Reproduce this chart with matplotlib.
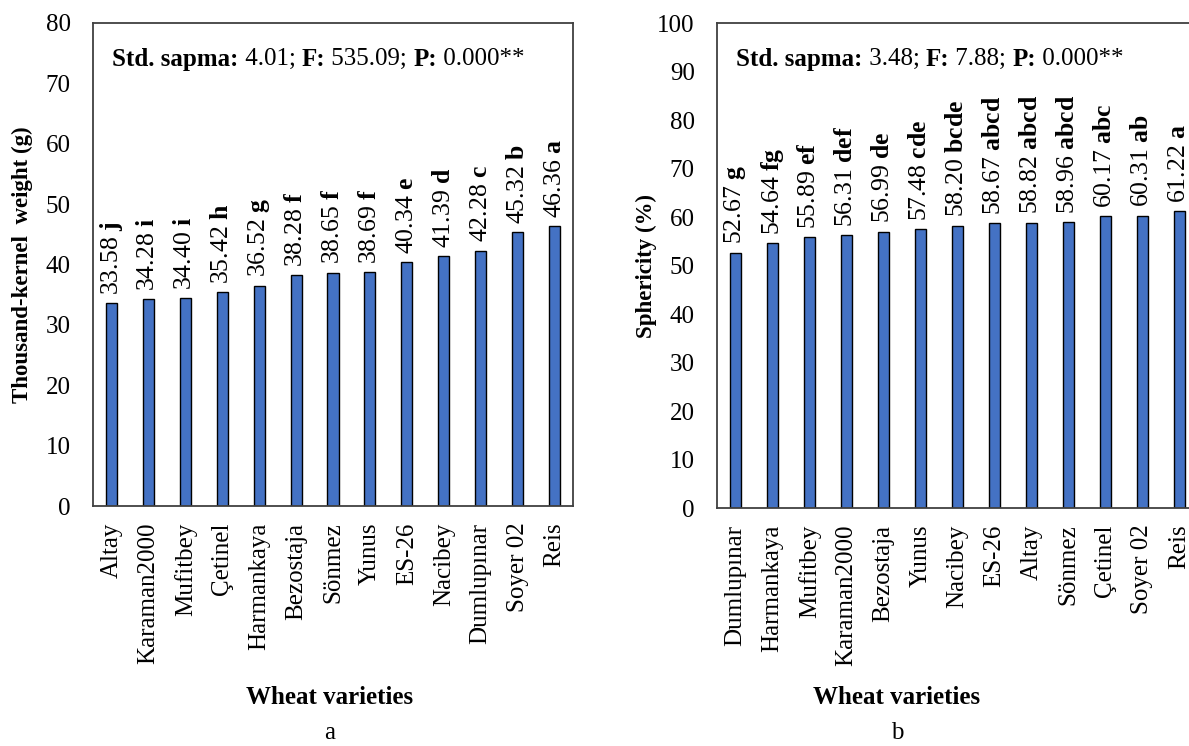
import matplotlib
matplotlib.use('Agg')
import matplotlib.pyplot as plt
import matplotlib.transforms as mtransforms

# thousand-kernel weight by variety
tkw_names = ['Altay', 'Karaman2000', 'Mufitbey', 'Çetinel', 'Harmankaya', 'Bezostaja', 'Sönmez',
             'Yunus', 'ES-26', 'Nacibey', 'Dumlupınar', 'Soyer 02', 'Reis']
tkw_values = [33.58, 34.28, 34.40, 35.42, 36.52, 38.28, 38.65, 38.69, 40.34, 41.39, 42.28, 45.32, 46.36]
tkw_groups = ['j', 'i', 'i', 'h', 'g', 'f', 'f', 'f', 'e', 'd', 'c', 'b', 'a']
tkw_stats = ['4.01', '535.09', '0.000**']

# sphericity by variety
sph_names = ['Dumlupınar', 'Harmankaya', 'Mufitbey', 'Karaman2000', 'Bezostaja', 'Yunus', 'Nacibey',
             'ES-26', 'Altay', 'Sönmez', 'Çetinel', 'Soyer 02', 'Reis']
sph_values = [52.67, 54.64, 55.89, 56.31, 56.99, 57.48, 58.20, 58.67, 58.82, 58.96, 60.17, 60.31, 61.22]
sph_groups = ['g', 'fg', 'ef', 'def', 'de', 'cde', 'bcde', 'abcd', 'abcd', 'abcd', 'abc', 'ab', 'a']
sph_stats = ['3.48', '7.88', '0.000**']

plt.rcParams['font.family'] = 'Liberation Serif'
plt.rcParams['font.size'] = 18
plt.rcParams['mathtext.fontset'] = 'custom'
plt.rcParams['mathtext.rm'] = 'Liberation Serif'
plt.rcParams['mathtext.bf'] = 'Liberation Serif:bold'

BAR = '#4472C4'
SPINE = '#404040'


def stats_line(fig, ax, x, y, stats):
    ''' write the "Std. sapma / F / P" line, bold keys and plain values '''
    parts = [('Std. sapma:', 'bold'), (' %s; ' % stats[0], 'normal'),
             ('F:', 'bold'), (' %s; ' % stats[1], 'normal'),
             ('P:', 'bold'), (' %s' % stats[2], 'normal')]
    renderer = fig.canvas.get_renderer()
    dx = 0
    for s, w in parts:
        tr = mtransforms.offset_copy(ax.transAxes, fig, x=dx, y=0, units='dots')
        t = ax.text(x, y, s, transform=tr, fontweight=w, ha='left', va='center')
        dx += t.get_window_extent(renderer).width


def bar_panel(fig, rect, names, values, groups, ymax, ylabel, stats):
    ax = fig.add_axes(rect)
    x = range(len(names))
    ax.bar(x, values, width=0.3, color=BAR, edgecolor='black', linewidth=1)
    # value + significance group above each bar
    for i, v in enumerate(values):
        ax.annotate('%.2f $\\mathbf{%s}$' % (v, groups[i]), (i, v), xytext=(0, 6),
                    textcoords='offset points', rotation=90, ha='center', va='bottom',
                    fontsize=18.5)
    ax.set_xlim(-0.5, len(names) - 0.5)
    ax.set_ylim(0, ymax)
    ax.set_yticks(range(0, ymax + 1, 10))
    ax.set_xticks(list(x))
    ax.set_xticklabels(names, rotation=90)
    ax.tick_params(axis='y', length=0, pad=16)
    ax.tick_params(axis='x', length=0, pad=12)
    for s in ax.spines.values():
        s.set_color(SPINE)
        s.set_linewidth(1.3)
    ax.set_ylabel(ylabel, fontweight='bold', fontsize=16.5)
    ax.yaxis.set_label_coords(-0.125, 0.5)
    stats_line(fig, ax, 0.04, 0.925, stats)
    return ax


fig = plt.figure(figsize=(11.89, 7.46), dpi=100)

ax1 = bar_panel(fig, [0.0782, 0.3217, 0.4037, 0.6475], tkw_names, tkw_values, tkw_groups, 80,
                'Thousand-kernel  weight (g)', tkw_stats)
ax2 = bar_panel(fig, [0.6030, 0.3190, 0.4045, 0.6501], sph_names, sph_values, sph_groups, 100,
                'Sphericity (%)', sph_stats)

# axis titles and panel letters
fig.text(330 / 1189, 1 - 697 / 746, 'Wheat varieties', fontweight='bold', ha='center', va='center')
fig.text(897 / 1189, 1 - 697 / 746, 'Wheat varieties', fontweight='bold', ha='center', va='center')
fig.text(330 / 1189, 1 - 733 / 746, 'a', ha='center', va='center')
fig.text(897 / 1189, 1 - 733 / 746, 'b', ha='center', va='center')

fig.savefig('out.png', dpi=100)
